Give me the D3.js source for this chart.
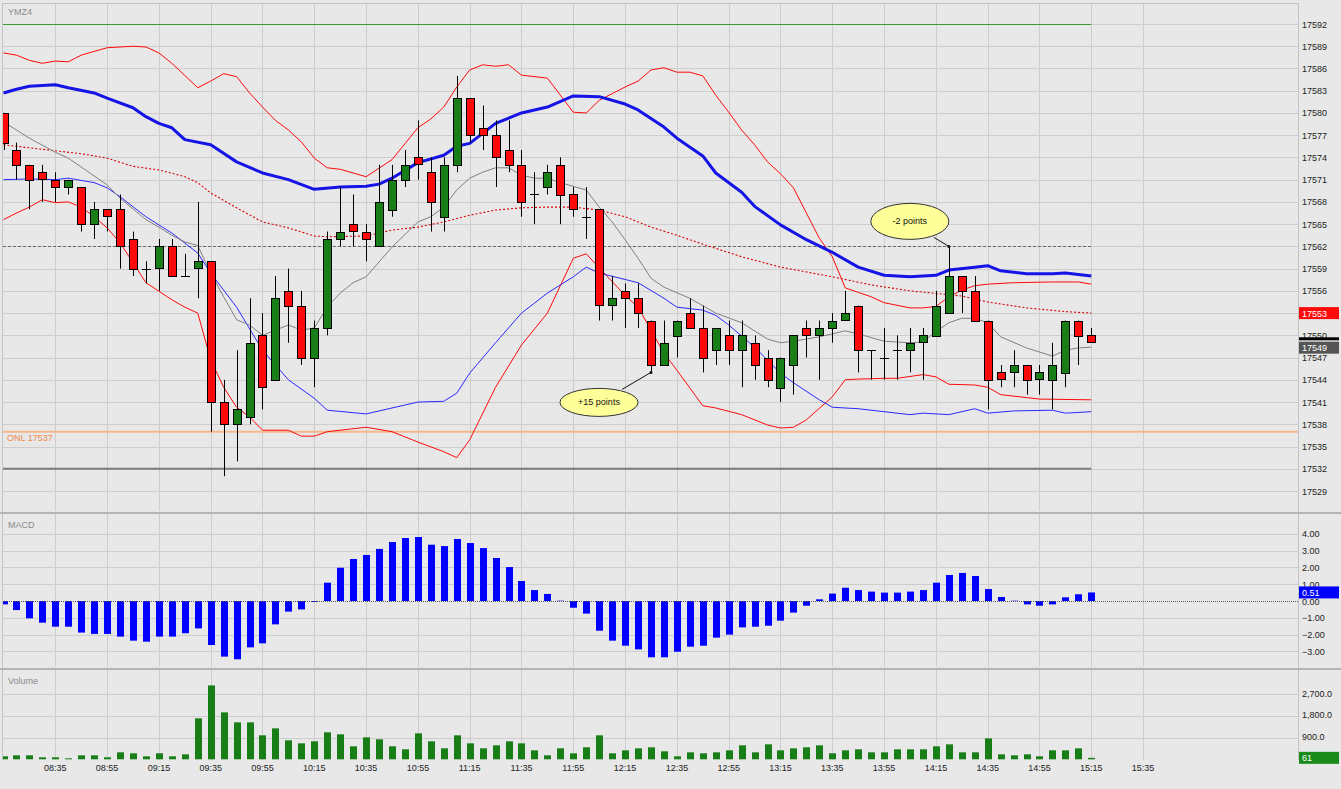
<!DOCTYPE html>
<html>
<head>
<meta charset="utf-8">
<title>YMZ4</title>
<script src="https://d3js.org/d3.v7.min.js"></script>
<style>
  body { margin: 0; background: #e8e8e8; overflow: hidden; }
  svg { display: block; font-family: "Liberation Sans", Arial, sans-serif; }
</style>
</head>
<body>
<script>
// 5 minute bars, first one at 08:15
const opens = [17580,17575,17573,17572,17571,17570,17570,17565,17567,17567,
  17563,17559,17559,17562,17558,17559,17560,17541,17538,17539,
  17550,17544,17556,17554,17547,17551,17563,17565,17564,17562,
  17567,17571,17574,17572,17566,17573,17582,17578,17577,17575,
  17573,17569,17570,17573,17569,17566,17567,17554,17556,17555,
  17552,17546,17550,17553,17551,17548,17550,17548,17549,17547,
  17543,17546,17551,17550,17551,17552,17554,17548,17547,17548,
  17548,17549,17550,17553,17558,17556,17552,17545,17545,17546,
  17544,17544,17545,17552,17550];
const highs = [17580,17576,17573,17573,17572,17571,17570,17568,17567,17569,
  17564,17560,17563,17563,17561,17568,17560,17544,17548,17555,
  17553,17558,17559,17556,17552,17564,17570,17569,17565,17573,
  17573,17575,17579,17574,17574,17585,17582,17581,17579,17579,
  17575,17572,17573,17574,17570,17570,17567,17558,17557,17557,
  17552,17552,17552,17555,17554,17551,17552,17552,17550,17548,
  17547,17550,17552,17552,17553,17556,17554,17548,17551,17550,
  17551,17551,17556,17562,17558,17558,17552,17546,17548,17546,
  17546,17549,17552,17552,17551];
const lows = [17575,17571,17567,17568,17568,17569,17564,17563,17564,17559,
  17558,17557,17556,17558,17558,17555,17537,17531,17533,17538,
  17540,17544,17549,17546,17543,17550,17562,17562,17560,17562,
  17566,17570,17571,17564,17564,17572,17576,17575,17570,17572,
  17566,17565,17569,17565,17566,17563,17552,17552,17551,17551,
  17545,17546,17547,17551,17545,17546,17546,17543,17544,17543,
  17541,17542,17547,17544,17549,17552,17545,17544,17544,17544,
  17545,17544,17550,17553,17553,17552,17540,17543,17543,17542,
  17542,17540,17543,17546,17549];
const closes = [17576,17573,17571,17571,17570,17571,17565,17567,17566,17562,
  17559,17559,17562,17558,17558,17560,17541,17538,17540,17549,
  17543,17555,17554,17547,17551,17563,17564,17564,17563,17568,
  17571,17573,17573,17568,17573,17582,17577,17577,17574,17573,
  17568,17569,17572,17569,17567,17566,17554,17555,17555,17553,
  17546,17549,17552,17551,17547,17551,17548,17550,17546,17544,
  17547,17550,17550,17551,17552,17553,17548,17548,17547,17548,
  17549,17550,17554,17558,17556,17552,17544,17544,17546,17544,
  17545,17546,17552,17550,17549];
const macd = [-0.2,-0.54,-1.03,-1.29,-1.53,-1.53,-1.88,-1.96,-1.96,-2.12,
  -2.36,-2.42,-2.12,-2.12,-1.92,-1.63,-2.62,-3.31,-3.47,-2.76,
  -2.52,-1.39,-0.63,-0.50,-0.06,1.09,1.98,2.50,2.74,3.10,
  3.51,3.75,3.81,3.35,3.27,3.69,3.45,3.15,2.56,2.02,
  1.19,0.65,0.42,0.02,-0.40,-0.75,-1.77,-2.36,-2.66,-2.88,
  -3.35,-3.35,-3.02,-2.72,-2.66,-2.18,-2.00,-1.57,-1.53,-1.47,
  -1.17,-0.69,-0.28,0.10,0.44,0.79,0.65,0.56,0.50,0.50,
  0.56,0.65,1.09,1.55,1.67,1.49,0.71,0.24,0.02,-0.20,
  -0.28,-0.20,0.22,0.40,0.51];
const volume = [124,166,166,83,83,41,166,166,83,290,
  249,124,249,124,207,1701,3070,1950,1535,1535,
  996,1286,788,664,747,1120,1037,539,913,830,
  539,415,1079,747,456,996,664,456,581,747,
  664,373,166,456,249,498,996,249,373,456,
  498,332,124,290,249,290,373,581,290,622,
  373,456,498,581,249,373,415,290,290,415,
  415,415,539,622,290,290,871,207,166,207,
  124,373,373,456,61];

// indicator lines as [bar, price]
const maGrey = [[0,17578.8],[2,17576.6],[4,17574.7],[5,17573.9],[8,17570.3],[9,17568.5],[11,17565.6],[12,17564.6],
  [13,17563.5],[14,17562.6],[15,17562.1],[16,17558.4],[17,17555.2],[18,17552.1],[19,17551.4],[20,17550.0],
  [21,17550.7],[22,17551.4],[23,17550.7],[24,17551.0],[25,17553.8],[26,17555.7],[27,17557.1],[28,17557.9],
  [30,17561.9],[32,17565.3],[33,17566.0],[34,17567.3],[35,17569.6],[36,17571.2],[37,17572.0],[38,17572.6],
  [39,17572.6],[40,17571.6],[41,17571.2],[42,17571.2],[43,17570.6],[45,17569.6],[46,17567.3],[47,17565.3],
  [48,17562.9],[49,17560.4],[50,17557.7],[51,17556.5],[53,17555.0],[55,17553.0],[57,17551.7],[59,17549.5],
  [60,17549.0],[61,17549.2],[63,17549.8],[65,17550.6],[66,17550.2],[68,17549.2],[70,17549.0],[71,17549.1],
  [72,17550.5],[73,17551.7],[74,17552.3],[75,17552.3],[76,17551.7],[77,17549.8],[79,17548.3],[81,17547.2],
  [82,17548.0],[83,17548.3],[84,17548.4]];
const bandMid = [[0,17575.7],[2,17575.3],[4,17574.9],[6,17574.5],[8,17573.9],[10,17572.8],[12,17572.3],[14,17571.4],
  [15,17570.6],[16,17569.2],[18,17567.2],[20,17565.3],[22,17564.5],[24,17563.4],[25,17563.3],[28,17563.4],
  [30,17564.2],[32,17564.6],[34,17565.3],[36,17566.2],[38,17566.9],[40,17567.2],[42,17567.3],[44,17567.3],
  [46,17566.9],[48,17566.0],[50,17564.6],[52,17563.5],[54,17562.3],[57,17560.6],[60,17559.2],[64,17557.9],
  [67,17556.8],[70,17556.0],[74,17555.3],[76,17554.5],[79,17553.7],[82,17553.2],[84,17553.0]];
const bandUpper = [[0,17588.1],[1,17587.8],[2,17587.1],[3,17586.7],[4,17587.0],[5,17586.9],[6,17587.8],[8,17588.8],
  [10,17589.0],[11,17588.9],[12,17588.1],[13,17586.7],[15,17583.4],[16,17584.3],[17,17585.3],[18,17584.9],
  [19,17582.7],[20,17580.8],[21,17579.0],[22,17577.7],[23,17576.1],[24,17573.9],[25,17572.6],[26,17572.4],
  [28,17571.4],[30,17573.7],[32,17578.0],[33,17579.2],[34,17580.8],[35,17583.5],[36,17585.8],[37,17586.5],
  [38,17586.3],[39,17586.5],[40,17585.1],[42,17584.7],[44,17580.1],[45,17580.0],[46,17581.7],[48,17583.5],
  [49,17584.3],[50,17585.8],[51,17586.1],[52,17585.5],[53,17585.5],[54,17585.0],[55,17582.4],[56,17580.1],
  [57,17577.7],[58,17575.7],[59,17573.4],[60,17571.8],[61,17569.9],[62,17566.5],[63,17563.1],[64,17560.6],
  [65,17556.4],[66,17555.8],[67,17555.2],[68,17554.4],[70,17553.7],[71,17553.7],[72,17553.9],[73,17555.2],
  [74,17556.1],[75,17556.7],[76,17556.9],[78,17557.1],[81,17557.2],[83,17557.2],[84,17556.9]];
const bandLower = [[0,17565.6],[1,17566.5],[2,17567.3],[3,17568.3],[4,17567.9],[5,17568.0],[6,17567.3],[7,17566.0],
  [8,17564.5],[9,17562.5],[11,17557.1],[13,17554.8],[14,17553.8],[15,17553.0],[16,17546.7],[17,17543.0],
  [18,17540.3],[19,17539.0],[20,17537.2],[22,17537.2],[23,17536.4],[24,17536.4],[25,17537.0],[28,17537.6],
  [30,17537.0],[32,17535.6],[34,17534.3],[35,17533.5],[36,17535.9],[38,17543.0],[40,17548.7],[42,17553.0],
  [44,17560.4],[45,17561.0],[46,17559.1],[48,17555.4],[49,17553.8],[51,17547.6],[52,17545.3],[54,17540.5],
  [55,17540.2],[57,17539.3],[59,17537.9],[60,17537.5],[61,17537.6],[62,17538.6],[64,17541.7],[65,17544.0],
  [66,17544.1],[68,17544.2],[69,17544.2],[71,17544.7],[72,17544.4],[73,17543.4],[75,17543.3],[76,17543.0],
  [77,17542.0],[80,17541.4],[84,17541.3]];
const maBlueThick = [[0,17582.7],[1,17583.2],[2,17583.6],[4,17583.8],[5,17583.4],[7,17582.7],[8,17582.0],[10,17580.7],
  [11,17579.5],[12,17578.6],[13,17578.0],[14,17576.4],[16,17575.7],[18,17573.4],[20,17571.9],[22,17571.0],
  [24,17569.7],[26,17570.0],[28,17570.1],[29,17570.4],[30,17571.2],[32,17573.3],[34,17574.3],[35,17575.5],
  [36,17575.9],[38,17578.6],[40,17580.0],[42,17580.8],[44,17582.3],[46,17582.2],[48,17581.2],[49,17580.4],
  [51,17578.1],[52,17576.6],[54,17574.2],[55,17571.9],[57,17569.3],[58,17567.4],[60,17564.9],[62,17562.9],
  [64,17561.2],[66,17559.2],[68,17558.1],[70,17557.9],[72,17558.1],[73,17558.8],[75,17559.2],[76,17559.4],
  [77,17558.7],[79,17558.3],[81,17558.3],[82,17558.4],[84,17558.0]];
const maBlueThin = [[0,17571.0],[2,17571.1],[4,17571.0],[5,17571.2],[7,17570.6],[8,17569.9],[9,17568.7],[11,17566.0],
  [13,17563.8],[15,17561.1],[16,17558.4],[18,17553.8],[20,17548.0],[22,17544.0],[24,17541.5],[25,17539.9],
  [28,17539.4],[32,17541.0],[34,17541.1],[35,17542.2],[36,17544.9],[38,17549.0],[40,17553.0],[42,17555.7],
  [44,17557.9],[45,17559.2],[46,17558.4],[49,17557.1],[51,17555.0],[52,17553.8],[54,17553.4],[55,17552.7],
  [56,17551.4],[58,17548.4],[60,17544.9],[61,17543.6],[63,17541.3],[64,17540.3],[66,17540.1],[68,17539.7],
  [70,17539.3],[71,17539.5],[73,17539.3],[75,17540.1],[76,17539.5],[78,17539.8],[81,17539.9],[82,17539.5],
  [84,17539.7]];

// axis labels
const priceTicks = [17529,17532,17535,17538,17541,17544,17547,17550,17553,17556,17559,
  17562,17565,17568,17571,17574,17577,17580,17583,17586,17589,17592];
const macdTicks = [-3,-2,-1,0,1,2,3,4];
const volumeTicks = [900,1800,2700];
const timeLabels = ['08:35','08:55','09:15','09:35','09:55','10:15','10:35','10:55','11:15','11:35','11:55',
  '12:15','12:35','12:55','13:15','13:35','13:55','14:15','14:35','14:55','15:15','15:35'];

// horizontal levels and notes
const levelHigh = 17592, levelMark = 17562, levelOnl = 17537, levelLow = 17532;
const noteBars = [50, 73];
const noteTexts = ['+15 points', '-2 points'];

const width = 1341, height = 789;
const plotLeft = 3, plotRight = 1298;
const priceTop = 3, priceBottom = 511;
const macdTop = 513, macdBottom = 667;
const volTop = 669, volBottom = 760;

const grid = '#cdcdcd';
const red = '#ff0a0a', green = '#187f18', blue = '#0000ff';

const svg = d3.select('body').append('svg').attr('width', width).attr('height', height);
svg.append('rect').attr('width', width).attr('height', height).attr('fill', '#e8e8e8');

// bar index -> x, first bar 08:15
const barOf = t => (+t.slice(0,2) * 60 + +t.slice(3) - (8 * 60 + 15)) / 5;
const x = d3.scaleLinear().domain([0, 88]).range([3.5, 1143.1]);
const y = d3.scaleLinear().domain([17529, 17592]).range([491, 24]);
const yM = d3.scaleLinear().domain([-3, 4]).range([651.4, 533.8]);
const yV = d3.scaleLinear().domain([0, 2700]).range([759.3, 694.3]);
const px = v => Math.round(v) + 0.5;

// clip for the price panel
const defs = svg.append('defs');
defs.append('clipPath').attr('id', 'clipPrice').append('rect')
  .attr('x', plotLeft).attr('y', priceTop).attr('width', plotRight - plotLeft).attr('height', priceBottom - priceTop);
defs.append('clipPath').attr('id', 'clipLow').append('rect')
  .attr('x', plotLeft).attr('y', macdTop).attr('width', plotRight - plotLeft).attr('height', volBottom - macdTop);

// vertical grid in every panel
[[priceTop, priceBottom], [macdTop, macdBottom], [volTop, volBottom]].forEach(([t, b]) => {
  svg.append('g').selectAll('line').data(timeLabels).join('line')
    .attr('x1', d => px(x(barOf(d)))).attr('x2', d => px(x(barOf(d))))
    .attr('y1', t).attr('y2', b).attr('stroke', grid);
});

// horizontal grid
svg.append('g').selectAll('line').data(priceTicks).join('line')
  .attr('x1', plotLeft).attr('x2', plotRight).attr('y1', d => px(y(d))).attr('y2', d => px(y(d))).attr('stroke', grid);
svg.append('g').selectAll('line').data(macdTicks.filter(d => d !== 0)).join('line')
  .attr('x1', plotLeft).attr('x2', plotRight).attr('y1', d => px(yM(d))).attr('y2', d => px(yM(d))).attr('stroke', grid);
svg.append('g').selectAll('line').data(volumeTicks).join('line')
  .attr('x1', plotLeft).attr('x2', plotRight).attr('y1', d => px(yV(d))).attr('y2', d => px(yV(d))).attr('stroke', grid);

// panel borders
svg.append('line').attr('x1', plotLeft).attr('x2', plotRight).attr('y1', priceTop + 0.5).attr('y2', priceTop + 0.5).attr('stroke', '#c4c4c4');
svg.append('line').attr('x1', plotLeft - 0.5).attr('x2', plotLeft - 0.5).attr('y1', priceTop).attr('y2', volBottom).attr('stroke', '#c4c4c4');
svg.append('line').attr('x1', plotRight + 0.5).attr('x2', plotRight + 0.5).attr('y1', priceTop).attr('y2', volBottom).attr('stroke', '#c4c4c4');
[priceBottom + 1, macdBottom + 1].forEach(v => {
  svg.append('rect').attr('x', 0).attr('y', v).attr('width', width).attr('height', 2).attr('fill', '#b4b4b4');
});

// panel titles
const titles = [['YMZ4', 15], ['MACD', 528], ['Volume', 684]];
svg.append('g').selectAll('text').data(titles).join('text')
  .attr('x', 8).attr('y', d => d[1]).attr('font-size', 9).attr('fill', '#8a8a8a').text(d => d[0]);

// ---------- price panel ----------
const price = svg.append('g').attr('clip-path', 'url(#clipPrice)');
const lastX = x(opens.length - 1);

price.append('line').attr('x1', plotLeft).attr('x2', lastX).attr('y1', px(y(levelHigh))).attr('y2', px(y(levelHigh)))
  .attr('stroke', '#3a9a3a');
price.append('line').attr('x1', plotLeft).attr('x2', lastX).attr('y1', px(y(levelMark))).attr('y2', px(y(levelMark)))
  .attr('stroke', '#6a6a6a').attr('stroke-dasharray', '3,2');
price.append('line').attr('x1', plotLeft).attr('x2', plotRight).attr('y1', y(levelOnl)).attr('y2', y(levelOnl))
  .attr('stroke', '#f7b78c').attr('stroke-width', 2);
price.append('text').attr('x', 7).attr('y', y(levelOnl) + 9.5).attr('font-size', 9).attr('fill', '#f08a4a')
  .text('ONL ' + levelOnl);
price.append('line').attr('x1', plotLeft).attr('x2', lastX).attr('y1', y(levelLow)).attr('y2', y(levelLow))
  .attr('stroke', '#7c7c7c').attr('stroke-width', 2);

const line = d3.line().x(d => x(d[0])).y(d => y(d[1]));
const series = [
  [bandUpper, red, 1, null],
  [bandLower, red, 1, null],
  [bandMid, '#d80000', 1.1, '2,2'],
  [maBlueThin, '#2a2aff', 1, null],
  [maGrey, '#808080', 1, null],
  [maBlueThick, '#1414e6', 3, null]
];
series.forEach(([data, color, w, dash]) => {
  price.append('path').datum(data).attr('d', line).attr('fill', 'none')
    .attr('stroke', color).attr('stroke-width', w).attr('stroke-dasharray', dash)
    .attr('stroke-linejoin', 'round');
});

// candles
const candles = opens.map((o, i) => ({i, o, h: highs[i], l: lows[i], c: closes[i]}));
const cg = price.append('g');
cg.selectAll('line.wick').data(candles).join('line').attr('class', 'wick')
  .attr('x1', d => px(x(d.i))).attr('x2', d => px(x(d.i)))
  .attr('y1', d => y(d.h)).attr('y2', d => y(d.l)).attr('stroke', '#000');
cg.selectAll('rect').data(candles.filter(d => d.o !== d.c)).join('rect')
  .attr('x', d => Math.round(x(d.i)) - 3.5).attr('width', 8)
  .attr('y', d => Math.round(y(Math.max(d.o, d.c))) + 0.5)
  .attr('height', d => Math.round(Math.abs(y(d.o) - y(d.c))))
  .attr('fill', d => d.c > d.o ? green : red).attr('stroke', '#000');
cg.selectAll('line.doji').data(candles.filter(d => d.o === d.c)).join('line').attr('class', 'doji')
  .attr('x1', d => Math.round(x(d.i)) - 4).attr('x2', d => Math.round(x(d.i)) + 5)
  .attr('y1', d => px(y(d.o))).attr('y2', d => px(y(d.o))).attr('stroke', '#000');

// callouts
const notes = [
  {bar: noteBars[0], p: lows[noteBars[0]], text: noteTexts[0], cx: -52, cy: 30, rx: 39, ry: 14, sx: -29, sy: 17},
  {bar: noteBars[1], p: highs[noteBars[1]], text: noteTexts[1], cx: -39, cy: -25, rx: 39, ry: 18, sx: -15, sy: -9}
];
notes.forEach(n => {
  const nx = x(n.bar), ny = y(n.p);
  price.append('line').attr('x1', nx + n.sx).attr('y1', ny + n.sy).attr('x2', nx).attr('y2', ny)
    .attr('stroke', '#111');
  price.append('circle').attr('cx', nx).attr('cy', ny).attr('r', 1.5).attr('fill', '#111');
  price.append('ellipse').attr('cx', nx + n.cx).attr('cy', ny + n.cy).attr('rx', n.rx).attr('ry', n.ry)
    .attr('fill', '#ffff99').attr('stroke', '#333');
  price.append('text').attr('x', nx + n.cx).attr('y', ny + n.cy + 3).attr('text-anchor', 'middle')
    .attr('font-size', 9).attr('fill', '#111').text(n.text);
});

// ---------- MACD panel ----------
const low = svg.append('g').attr('clip-path', 'url(#clipLow)');
low.append('g').selectAll('rect').data(macd).join('rect')
  .attr('x', (d, i) => Math.round(x(i)) - 3).attr('width', 7)
  .attr('y', d => Math.min(yM(d), yM(0))).attr('height', d => Math.abs(yM(d) - yM(0)))
  .attr('fill', blue);
svg.append('line').attr('x1', plotLeft).attr('x2', plotRight).attr('y1', px(yM(0))).attr('y2', px(yM(0)))
  .attr('stroke', '#555').attr('stroke-dasharray', '1,1');

// ---------- volume panel ----------
low.append('g').selectAll('rect').data(volume).join('rect')
  .attr('x', (d, i) => Math.round(x(i)) - 3).attr('width', 7)
  .attr('y', d => yV(d)).attr('height', d => yV(0) - yV(d))
  .attr('fill', green);

// ---------- axes ----------
const axisX = plotRight + 4;
svg.append('g').selectAll('text').data(priceTicks).join('text')
  .attr('x', axisX).attr('y', d => y(d) + 3.5).attr('font-size', 9).attr('fill', '#222').text(d => d);
svg.append('g').selectAll('text').data(macdTicks).join('text')
  .attr('x', axisX).attr('y', d => yM(d) + 3.5).attr('font-size', 9).attr('fill', '#222').text(d3.format('.2f'));
svg.append('g').selectAll('text').data(volumeTicks).join('text')
  .attr('x', axisX).attr('y', d => yV(d) + 2.5).attr('font-size', 9).attr('fill', '#222').text(d3.format(',.1f'));
svg.append('g').selectAll('text').data(timeLabels).join('text')
  .attr('x', d => x(barOf(d))).attr('y', 771).attr('text-anchor', 'middle')
  .attr('font-size', 9).attr('fill', '#222').text(d => d);

// value tags on the right
function tag(cy, text, bg) {
  svg.append('rect').attr('x', plotRight + 1).attr('y', cy - 6).attr('width', 40).attr('height', 12).attr('fill', bg);
  svg.append('text').attr('x', axisX).attr('y', cy + 3.5).attr('font-size', 9).attr('fill', '#fff').text(text);
}
const last = opens.length - 1;
const midLast = bandMid[bandMid.length - 1][1];
const greyLast = maGrey[maGrey.length - 1][1];
tag(y(midLast), d3.format('.0f')(midLast), red);
svg.append('rect').attr('x', plotRight + 1).attr('y', y(closes[last] + 0.6) - 1).attr('width', 40).attr('height', 3).attr('fill', '#000');
tag(y(greyLast) + 0.5, closes[last], '#555');
tag(yM(macd[last]), d3.format('.2f')(macd[last]), blue);
tag(yV(volume[last]), volume[last], '#1a8a1a');
</script>
</body>
</html>
